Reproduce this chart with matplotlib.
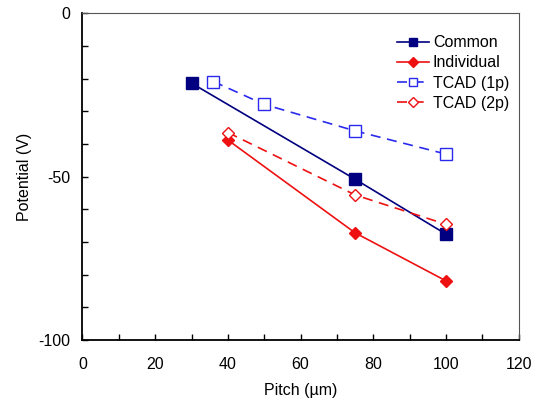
import matplotlib
matplotlib.use('Agg')
import matplotlib.pyplot as plt
from matplotlib.ticker import MultipleLocator

plt.rcParams['font.family'] = ['Liberation Sans', 'DejaVu Sans']
plt.rcParams['axes.unicode_minus'] = False

# data
common_x = [30, 75, 100]
common_y = [-21.4, -50.8, -67.6]
indiv_x = [40, 75, 100]
indiv_y = [-38.8, -67.2, -81.9]
tcad1_x = [36, 50, 75, 100]
tcad1_y = [-20.9, -27.9, -36.0, -43.1]
tcad2_x = [40, 75, 100]
tcad2_y = [-36.5, -55.6, -64.6]

fig = plt.figure(figsize=(5.37, 4.01), dpi=100)
ax = fig.add_axes([0.1536, 0.152, 0.8124, 0.815])

ax.plot(common_x, common_y, color='#000080', marker='s', markersize=8,
        linewidth=1.2, label='Common')
ax.plot(indiv_x, indiv_y, color='#EE1111', marker='D', markersize=6.5,
        linewidth=1.2, label='Individual')
ax.plot(tcad1_x, tcad1_y, color='#2a2aEE', marker='s', markersize=8,
        markerfacecolor='white', linewidth=1.2, linestyle=(0, (6, 4)),
        label='TCAD (1p)')
ax.plot(tcad2_x, tcad2_y, color='#EE1111', marker='D', markersize=6.5,
        markerfacecolor='white', linewidth=1.2, linestyle=(0, (6, 4)),
        label='TCAD (2p)')

ax.set_xlim(0, 120)
ax.set_ylim(-100, 0)
ax.xaxis.set_major_locator(MultipleLocator(20))
ax.xaxis.set_minor_locator(MultipleLocator(10))
ax.yaxis.set_major_locator(MultipleLocator(50))
ax.yaxis.set_minor_locator(MultipleLocator(10))
ax.tick_params(which='both', direction='in', labelsize=11.5, length=4, width=1)
ax.tick_params(axis='y', which='major', pad=9)
ax.tick_params(axis='x', which='major', pad=12)
for s in ['left', 'bottom']:
    ax.spines[s].set_linewidth(1.3)
for s in ['top', 'right']:
    ax.spines[s].set_linewidth(0.8)
    ax.spines[s].set_color('#555555')

ax.set_xlabel('Pitch (µm)', fontsize=11.5, labelpad=8)
ax.set_ylabel('Potential (V)', fontsize=11.5, labelpad=4)

ax.legend(loc='upper left', frameon=False, fontsize=11.5, handlelength=2.0,
          handletextpad=0.25, labelspacing=0.33, markerscale=0.75,
          borderpad=0, borderaxespad=0, bbox_to_anchor=(0.721, 0.933))

fig.savefig('out.png', dpi=100)
